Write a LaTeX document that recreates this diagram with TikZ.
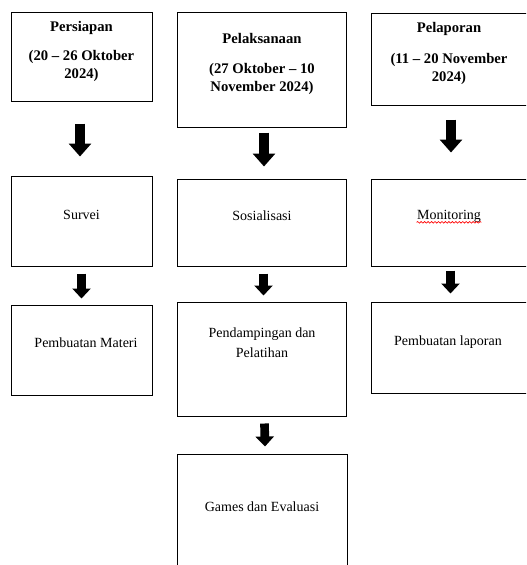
\documentclass[tikz,border=0pt]{standalone}
\usepackage{fontspec}
\setmainfont{Liberation Serif}
\usetikzlibrary{arrows.meta,fit,calc,decorations.pathmorphing}

\tikzset{every picture/.style={line width=0.75pt}}
\tikzset{
  phasebox/.style={draw, inner sep=0pt},
  headtxt/.style={font=\fontsize{11}{13.5}\selectfont\bfseries, align=center, inner sep=0pt},
  bodytxt/.style={font=\fontsize{10.5}{15}\selectfont, align=center, inner sep=0pt},
  bigarrow/.style={line width=7.5pt, -{Triangle[width=16.5pt,length=9.75pt]}},
  smallarrow/.style={line width=6.5pt, -{Triangle[width=13.5pt,length=7.5pt]}},
  spellmark/.style={draw=red, line width=0.5pt, decorate, decoration={snake, amplitude=0.6pt, segment length=2.6pt}}
}

\begin{document}
\begin{tikzpicture}[x=0.75pt,y=0.75pt,yscale=-1,xscale=1]
        \useasboundingbox (0,0) rectangle (526,565);
        \clip (0,0) rectangle (526,565);

        %Shape: Rectangle [id:persiapan] 
        \node [phasebox, fit={(11,12) (152,101)}] (persiapan) {};
        \node [headtxt] (persiapantitle) at (81.5,28) {Persiapan};
        \node [headtxt] (persiapandate) at (81.5,66) {(20 – 26 Oktober\\2024)};
        %Shape: Rectangle [id:pelaksanaan] 
        \node [phasebox, fit={(177,12) (346,127)}] (pelaksanaan) {};
        \node [headtxt] (pelaksanaantitle) at (262,38) {Pelaksanaan};
        \node [headtxt] (pelaksanaandate) at (262,79) {(27 Oktober – 10\\November 2024)};
        %Shape: Rectangle [id:pelaporan] 
        \node [phasebox, fit={(371,13) (530,105)}] (pelaporan) {};
        \node [headtxt] (pelaporantitle) at (449,29) {Pelaporan};
        \node [headtxt] (pelaporandate) at (449,69) {(11 – 20 November\\2024)};

        %Shape: Rectangle [id:survei] 
        \node [phasebox, fit={(11,176) (152,266)}] (survei) {};
        \node [bodytxt] (surveitxt) at (81.5,215) {Survei};
        %Shape: Rectangle [id:sosialisasi] 
        \node [phasebox, fit={(177,179) (346,266)}] (sosialisasi) {};
        \node [bodytxt] (sosialisasitxt) at (262,216) {Sosialisasi};
        %Shape: Rectangle [id:monitoring] 
        \node [phasebox, fit={(371,179) (530,266)}] (monitoring) {};
        \node [bodytxt] (monitoringtxt) at (449,216) {Monitoring};
        \draw [spellmark] ([yshift=2.4pt]monitoringtxt.base west) -- ([yshift=2.4pt]monitoringtxt.base east);

        %Shape: Rectangle [id:materi] 
        \node [phasebox, fit={(11,305) (152,395)}] (materi) {};
        \node [bodytxt] (materitxt) at (86,343) {Pembuatan Materi};
        %Shape: Rectangle [id:pendampingan] 
        \node [phasebox, fit={(177,302) (346,416)}] (pendampingan) {};
        \node [bodytxt] (pendampingantxt) at (262,343) {Pendampingan dan\\Pelatihan};
        %Shape: Rectangle [id:laporan] 
        \node [phasebox, fit={(371,302) (530,393)}] (laporan) {};
        \node [bodytxt] (laporantxt) at (448,342) {Pembuatan laporan};

        %Shape: Rectangle [id:games] 
        \node [phasebox, fit={(177,454) (347,580)}] (games) {};
        \node [bodytxt] (gamestxt) at (262,507) {Games dan Evaluasi};

        %Straight Lines [id:arrows] 
        \draw [bigarrow] ($(persiapan.south)+(-1.5,22)$) -- ($(survei.north)+(-1.5,-19)$) ;
        \draw [bigarrow] ($(pelaksanaan.south)+(2.5,5)$) -- ($(sosialisasi.north)+(2.5,-12)$) ;
        \draw [bigarrow] ($(pelaporan.south)+(0.5,14)$) -- ($(monitoring.north)+(0.5,-26)$) ;
        \draw [smallarrow] ($(survei.south)+(0,7)$) -- ($(materi.north)+(0,-6)$) ;
        \draw [smallarrow] ($(sosialisasi.south)+(2,7)$) -- ($(pendampingan.north)+(2,-6)$) ;
        \draw [smallarrow] ($(monitoring.south)+(0,4)$) -- ($(laporan.north)+(0,-8)$) ;
        \draw [smallarrow] ($(pendampingan.south)+(3,7)$) -- ($(games.north)+(3,-7)$) ;

    \end{tikzpicture}
\end{document}
